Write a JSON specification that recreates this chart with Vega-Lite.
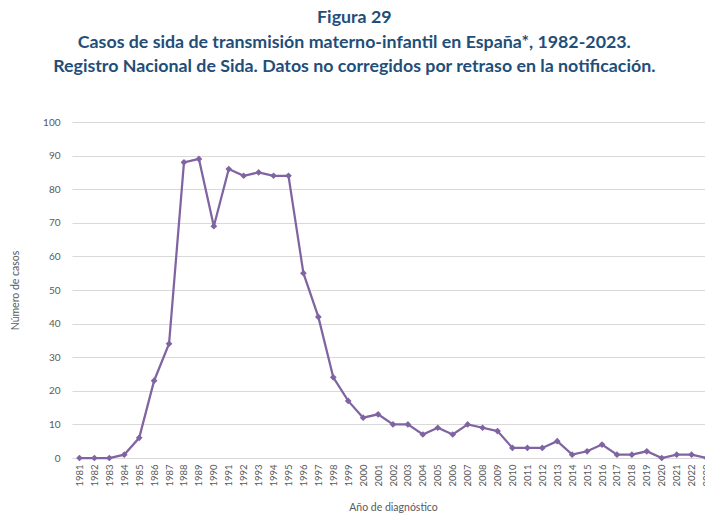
{
  "$schema": "https://vega.github.io/schema/vega-lite/v6.json",
  "autosize": "none",
  "width": 642,
  "height": 336,
  "padding": {"left": 72, "top": 122, "right": 0, "bottom": 60},
  "background": "white",
  "title": {
    "text": ["Figura 29", "Casos de sida de transmisión materno-infantil en España*, 1982-2023.", "Registro Nacional de Sida. Datos no corregidos por retraso en la notificación."],
    "font": "Lato",
    "fontSize": 17.8,
    "fontWeight": "bold",
    "color": "#1F4E79",
    "lineHeight": 24.5,
    "anchor": "middle",
    "frame": "bounds",
    "offset": 41,
    "dx": -8
  },
  "data": {
    "values": [
      {"year": "1981", "casos": 0},
      {"year": "1982", "casos": 0},
      {"year": "1983", "casos": 0},
      {"year": "1984", "casos": 1},
      {"year": "1985", "casos": 6},
      {"year": "1986", "casos": 23},
      {"year": "1987", "casos": 34},
      {"year": "1988", "casos": 88},
      {"year": "1989", "casos": 89},
      {"year": "1990", "casos": 69},
      {"year": "1991", "casos": 86},
      {"year": "1992", "casos": 84},
      {"year": "1993", "casos": 85},
      {"year": "1994", "casos": 84},
      {"year": "1995", "casos": 84},
      {"year": "1996", "casos": 55},
      {"year": "1997", "casos": 42},
      {"year": "1998", "casos": 24},
      {"year": "1999", "casos": 17},
      {"year": "2000", "casos": 12},
      {"year": "2001", "casos": 13},
      {"year": "2002", "casos": 10},
      {"year": "2003", "casos": 10},
      {"year": "2004", "casos": 7},
      {"year": "2005", "casos": 9},
      {"year": "2006", "casos": 7},
      {"year": "2007", "casos": 10},
      {"year": "2008", "casos": 9},
      {"year": "2009", "casos": 8},
      {"year": "2010", "casos": 3},
      {"year": "2011", "casos": 3},
      {"year": "2012", "casos": 3},
      {"year": "2013", "casos": 5},
      {"year": "2014", "casos": 1},
      {"year": "2015", "casos": 2},
      {"year": "2016", "casos": 4},
      {"year": "2017", "casos": 1},
      {"year": "2018", "casos": 1},
      {"year": "2019", "casos": 2},
      {"year": "2020", "casos": 0},
      {"year": "2021", "casos": 1},
      {"year": "2022", "casos": 1},
      {"year": "2023", "casos": 0}
    ]
  },
  "config": {
    "view": {"stroke": null},
    "axis": {
      "labelFont": "Lato",
      "titleFont": "Lato",
      "labelColor": "#595959",
      "titleColor": "#595959",
      "labelFontSize": 10,
      "titleFontSize": 10.5,
      "titleFontWeight": "normal"
    }
  },
  "encoding": {
    "x": {
      "field": "year",
      "type": "ordinal",
      "scale": {"type": "point", "padding": 0.5},
      "axis": {
        "title": "Año de diagnóstico",
        "labelAngle": -90,
        "labelPadding": 6,
        "ticks": false,
        "domainColor": "#D9D9D9",
        "domainWidth": 1,
        "grid": false,
        "titlePadding": 16,
        "labelFontSize": 9.5
      }
    },
    "y": {
      "field": "casos",
      "type": "quantitative",
      "scale": {"domain": [0, 100]},
      "axis": {
        "title": "Número de casos",
        "values": [0, 10, 20, 30, 40, 50, 60, 70, 80, 90, 100],
        "ticks": false,
        "domain": false,
        "gridColor": "#D9D9D9",
        "gridWidth": 1,
        "labelPadding": 12,
        "titlePadding": 22
      }
    }
  },
  "layer": [
    {"mark": {"type": "line", "color": "#8064A2", "strokeWidth": 2.25}},
    {"mark": {"type": "point", "shape": "diamond", "filled": true, "color": "#8064A2", "opacity": 1, "size": 45}}
  ]
}
